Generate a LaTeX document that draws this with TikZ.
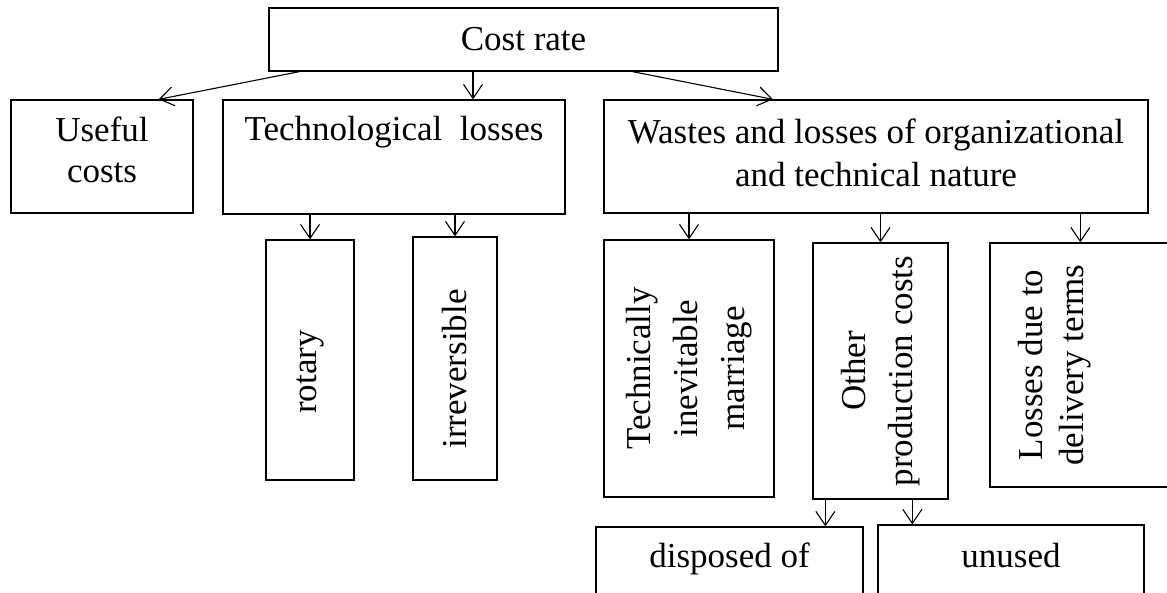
\documentclass[tikz,border=0pt]{standalone}
\usepackage{fontspec}
\setmainfont{Liberation Serif}
\usetikzlibrary{arrows.meta}
\tikzset{
    box/.style={draw, line width=1.3pt, inner sep=0pt, align=center}, % framed box
    vbox/.style={box, rotate=90, font=\fontsize{35}{47}\selectfont}, % upright box, text read bottom to top
    link/.style={-{Straight Barb[length=14pt, width=19pt]}, line width=1.1pt} % arrow between boxes
}

\begin{document}
\begin{tikzpicture}[x=1pt, y=-1pt, font=\fontsize{35}{41}\selectfont]
            \useasboundingbox (0,0) rectangle (1167,592);
            \clip (0,0) rectangle (1167,592);

            \node[box, minimum width=509, minimum height=63] (rate) at (523.5,39.5) {Cost rate};

            % text sits above the middle: height and depth are set by hand (baseline = last line)
            \node[box, minimum width=182, text height=82pt, text depth=31pt] (useful) at (102,156.5) {Useful\\costs};
            \node[box, minimum width=342, text height=40pt, text depth=74pt] (tech) at (394,157) {Technological\ \ losses};
            \node[box, minimum width=544, font=\fontsize{35}{43}\selectfont, text height=86pt, text depth=27pt] (wastes) at (876,156.5) {Wastes and losses of organizational\\and technical nature};

            % trailing space pushes the word a little lower
            \node[vbox, minimum width=240, minimum height=88] (rotary) at (310,360) {rotary\hspace*{24pt}};
            \node[vbox, minimum width=243, minimum height=84] (irrev) at (455,358.5) {irreversible\hspace*{21pt}};
            \node[vbox, minimum width=257, minimum height=170] (defect) at (689,368.5) {Technically\\inevitable\\marriage};
            \node[vbox, minimum width=256, minimum height=135] (other) at (880.5,371) {Other\\production costs};
            \node[vbox, font=\fontsize{35}{41}\selectfont, minimum width=244, text height=93pt, text depth=117pt] (delivery) at (1095,365) {Losses due to\\delivery terms};

            \node[box, minimum width=267, text height=40pt, text depth=70pt] (disposed) at (729.5,582) {disposed of};
            \node[box, minimum width=266, text height=42pt, text depth=70pt] (unused) at (1011,581) {unused};

            \draw[link] ([xshift=31pt]rate.south west) -- ([xshift=-35pt]useful.north east);
            \draw[link] ([xshift=-50.5pt]rate.south) -- ([xshift=79pt]tech.north);
            \draw[link] ([xshift=-146pt]rate.south east) -- ([xshift=-103pt]wastes.north);

            \draw[link] (tech.south -| rotary.east) -- (rotary.east);
            \draw[link] (tech.south -| irrev.east) -- (irrev.east);

            \coordinate (dtop) at ([xshift=91pt]delivery.north east);
            \draw[link] (wastes.south -| defect.east) -- (defect.east);
            \draw[link] (wastes.south -| other.east) -- (other.east);
            \draw[link] (wastes.south -| dtop) -- (dtop);

            \coordinate (o1) at ([xshift=13pt]other.north west);
            \coordinate (o2) at ([xshift=100pt]other.north west);
            \draw[link] (o1) -- (o1 |- disposed.north);
            \draw[link] (o2) -- (o2 |- unused.north);
        \end{tikzpicture}
\end{document}
